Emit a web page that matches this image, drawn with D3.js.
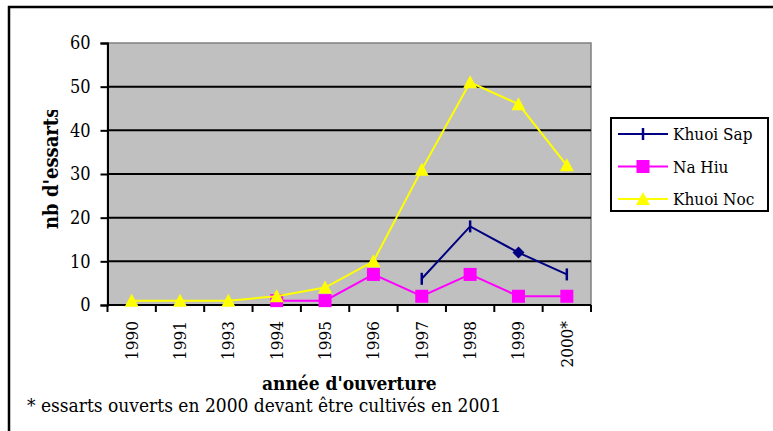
<!DOCTYPE html>
<html>
<head>
<meta charset="utf-8">
<script src="https://cdn.jsdelivr.net/npm/d3@7"></script>
<style>
  body { margin: 0; background: #fff; }
</style>
</head>
<body>
<div id="chart"></div>
<script>
// data
let categories = ["1990", "1991", "1993", "1994", "1995", "1996", "1997", "1998", "1999", "2000*"]
let khuoiSap = [null, null, null, null, null, null, 6, 18, 12, 7]
let naHiu = [null, null, null, 1, 1, 7, 2, 7, 2, 2]
let khuoiNoc = [1, 1, 1, 2, 4, 10, 31, 51, 46, 32]
let yTicks = [0, 10, 20, 30, 40, 50, 60]

let series = [
    {name: "Khuoi Sap", values: khuoiSap, color: "#000080", marker: "dash"},
    {name: "Na Hiu", values: naHiu, color: "#FF00FF", marker: "square"},
    {name: "Khuoi Noc", values: khuoiNoc, color: "#FFFF00", marker: "triangle"}
]

let serif = "'DejaVu Serif Condensed', 'DejaVu Serif'"

let W = 773, H = 431
let margin = {top: 43, left: 107.5, right: 182, bottom: 126}
let width = W - margin.left - margin.right
let height = H - margin.top - margin.bottom

let svg = d3.select("#chart").append("svg")
    .attr("width", W)
    .attr("height", H)
    .attr("font-family", serif)

// outer frame (only top and left edges fall inside the window)
svg.append("rect")
    .attr("x", 9).attr("y", 7)
    .attr("width", W + 20).attr("height", H + 20)
    .attr("fill", "none")
    .attr("stroke", "#000")
    .attr("stroke-width", 2.5)

let g = svg.append("g")
    .attr("transform", `translate(${margin.left},${margin.top})`)

// scales
let x = d3.scaleBand().domain(categories).range([0, width]).padding(0)
let y = d3.scaleLinear().domain([0, 60]).range([height, 0])
let cx = d => x(d) + x.bandwidth() / 2

// plot area
g.append("rect")
    .attr("width", width).attr("height", height)
    .attr("fill", "#C0C0C0")
    .attr("stroke", "#808080")
    .attr("stroke-width", 1.5)

// gridlines
g.append("g").selectAll("line")
    .data(yTicks.filter(d => d > 0 && d < 60))
    .join("line")
    .attr("x1", 0).attr("x2", width)
    .attr("y1", d => y(d)).attr("y2", d => y(d))
    .attr("stroke", "#000")
    .attr("stroke-width", 2)

// y axis
let yAxis = g.append("g")
    .call(d3.axisLeft(y).tickValues(yTicks).tickSize(7).tickPadding(10).tickFormat(d3.format("d")))
    .attr("font-family", serif)
yAxis.select(".domain").attr("stroke-width", 2)
yAxis.selectAll(".tick line").attr("stroke-width", 2)
yAxis.selectAll("text").attr("font-size", 18).attr("fill", "#000")

// x axis: labels at the centres, ticks between categories
let xAxis = g.append("g")
    .attr("transform", `translate(0,${height})`)
    .call(d3.axisBottom(x).tickSize(0).tickPadding(0))
    .attr("font-family", serif)
xAxis.select(".domain").attr("stroke-width", 2).attr("d", `M0,0H${width}`)
xAxis.selectAll("text")
    .attr("font-size", 17)
    .attr("fill", "#000")
    .attr("text-anchor", "end")
    .attr("dy", null)
    .attr("transform", "translate(6,16) rotate(-90)")

g.append("g").selectAll("line")
    .data(categories.map(d => x(d)).concat([width]))
    .join("line")
    .attr("x1", d => d).attr("x2", d => d)
    .attr("y1", height).attr("y2", height + 7)
    .attr("stroke", "#000")
    .attr("stroke-width", 2)

// axis titles (the y title is cut at the top, as in the original)
svg.append("clipPath").attr("id", "ylabclip")
    .append("rect").attr("x", 0).attr("y", 110).attr("width", 100).attr("height", 200)

svg.append("g")
    .attr("clip-path", "url(#ylabclip)")
    .append("text")
    .attr("transform", "translate(58,229) rotate(-90)")
    .attr("font-size", 20)
    .attr("font-weight", "bold")
    .text("nb d'essarts")

svg.append("text")
    .attr("x", margin.left + width / 2)
    .attr("y", 390)
    .attr("text-anchor", "middle")
    .attr("font-size", 19)
    .attr("font-weight", "bold")
    .text("année d'ouverture")

svg.append("text")
    .attr("x", 27)
    .attr("y", 412)
    .attr("font-size", 19)
    .text("* essarts ouverts en 2000 devant être cultivés en 2001")

// markers
function drawMarker(sel, type, color) {
    if (type == "square") {
        sel.append("rect")
            .attr("x", -6.5).attr("y", -6.5).attr("width", 13).attr("height", 13)
            .attr("fill", color)
    } else if (type == "triangle") {
        sel.append("path")
            .attr("d", "M0,-7L7,6L-7,6Z")
            .attr("fill", color)
    } else if (type == "diamond") {
        sel.append("path")
            .attr("d", "M0,-6L6,0L0,6L-6,0Z")
            .attr("fill", color)
    } else {
        sel.append("line")
            .attr("y1", -6).attr("y2", 6)
            .attr("stroke", color)
            .attr("stroke-width", 2.5)
    }
}

let line = d3.line()
    .defined(d => d.v != null)
    .x(d => cx(d.c))
    .y(d => y(d.v))

// draw Na Hiu, then Khuoi Noc, then Khuoi Sap on top
let drawOrder = [series[1], series[2], series[0]]
drawOrder.forEach(s => {
    let pts = categories.map((c, i) => ({c: c, v: s.values[i]}))
    g.append("path")
        .datum(pts)
        .attr("d", line)
        .attr("fill", "none")
        .attr("stroke", s.color)
        .attr("stroke-width", 2)

    g.append("g").selectAll("g")
        .data(pts.filter(d => d.v != null))
        .join("g")
        .attr("transform", d => `translate(${cx(d.c)},${y(d.v)})`)
        .each(function(d) {
            // the 1999 point of Khuoi Sap is drawn as a diamond
            let type = (s.name == "Khuoi Sap" && d.c == "1999") ? "diamond" : s.marker
            drawMarker(d3.select(this), type, s.color)
        })
})

// legend
let legend = svg.append("g").attr("transform", "translate(611,118)")
legend.append("rect")
    .attr("width", 157).attr("height", 93)
    .attr("fill", "#fff")
    .attr("stroke", "#000")
    .attr("stroke-width", 2)

series.forEach((s, i) => {
    let row = legend.append("g").attr("transform", `translate(0,${16 + i * 32.5})`)
    row.append("line")
        .attr("x1", 7).attr("x2", 57)
        .attr("stroke", s.color)
        .attr("stroke-width", 2)
    drawMarker(row.append("g").attr("transform", "translate(32,0)"), s.marker, s.color)
    row.append("text")
        .attr("x", 62).attr("y", 6)
        .attr("font-size", 17)
        .text(s.name)
})
</script>
</body>
</html>
